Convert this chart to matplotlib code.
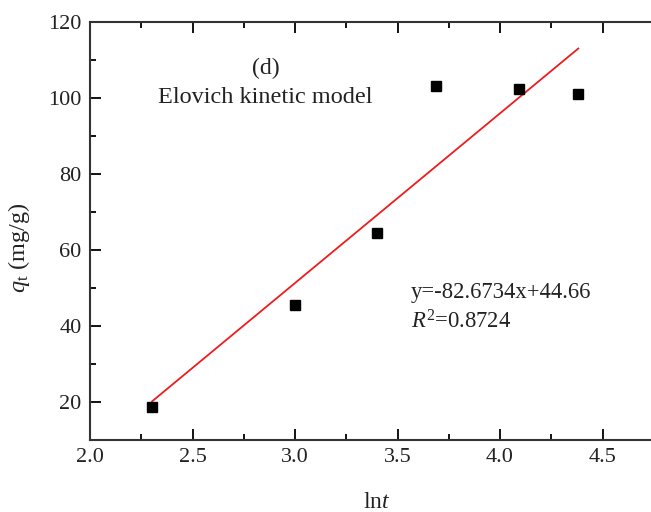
import numpy as np
import matplotlib
matplotlib.use("Agg")
import matplotlib.pyplot as plt
from matplotlib.ticker import MultipleLocator

# data
lnt = [2.303, 3.0, 3.401, 3.689, 4.094, 4.382]
qt = [18.7, 45.6, 64.6, 103.2, 102.3, 101.0]

# linear fit as printed on the chart (y = a*x + b with a, b swapped in the label)
slope = 44.66
intercept = -82.6734
eq_text = "y=-82.6734x+44.66"
r2_text = "$R^2$=0.8724"

plt.rcParams['font.family'] = ['Liberation Serif', 'DejaVu Serif']
plt.rcParams['mathtext.fontset'] = 'custom'
plt.rcParams['mathtext.rm'] = 'Liberation Serif'
plt.rcParams['mathtext.it'] = 'Liberation Serif:italic'

fig = plt.figure(figsize=(6.51, 5.12), dpi=100)
ax = fig.add_axes([90/651, 72/512, 574/651, 418/512])

ax.plot(lnt, qt, 's', color='black', ms=7, zorder=3)
xfit = np.array([lnt[0], lnt[-1]])
ax.plot(xfit, slope*xfit + intercept, color='#ee1c1c', lw=1.3, zorder=2)

ax.set_xlim(2.0, 4.8)
ax.set_ylim(10, 120)
ax.xaxis.set_minor_locator(MultipleLocator(0.25))
ax.yaxis.set_major_locator(MultipleLocator(20))
ax.yaxis.set_minor_locator(MultipleLocator(10))
ax.set_xticks([2.0, 2.5, 3.0, 3.5, 4.0, 4.5])
ax.set_xticklabels(['2.0', '2.5', '3.0', '3.5', '4.0', '4.5'])

ax.tick_params(which='both', direction='in', top=True, right=True,
               labelsize=16, colors='black', labelcolor='#222222', width=1.3)
ax.tick_params(which='major', length=8, pad=6)
ax.tick_params(which='minor', length=4.5)
for s in ax.spines.values():
    s.set_linewidth(1.5)
    s.set_color('#333333')

ax.set_xlabel('ln$\\mathit{t}$', fontsize=17, color='#222222', labelpad=18)
ax.set_ylabel('$\\mathit{q}_{\\rm t}$ (mg/g)', fontsize=17.5, color='#222222')
ax.yaxis.set_label_coords(-0.101, 0.46)

ax.text(0.306, 0.89, "(d)", transform=ax.transAxes, fontsize=17,
        ha='center', va='center', color='#222222')
ax.text(0.118, 0.82, "Elovich kinetic model", transform=ax.transAxes, fontsize=17.5,
        ha='left', va='center', color='#222222')
ax.text(0.559, 0.354, eq_text, transform=ax.transAxes, fontsize=16.3,
        ha='left', va='center', color='#222222')
ax.text(0.559, 0.282, r2_text, transform=ax.transAxes, fontsize=16.3,
        ha='left', va='center', color='#222222')

fig.savefig('out.png', dpi=100)
